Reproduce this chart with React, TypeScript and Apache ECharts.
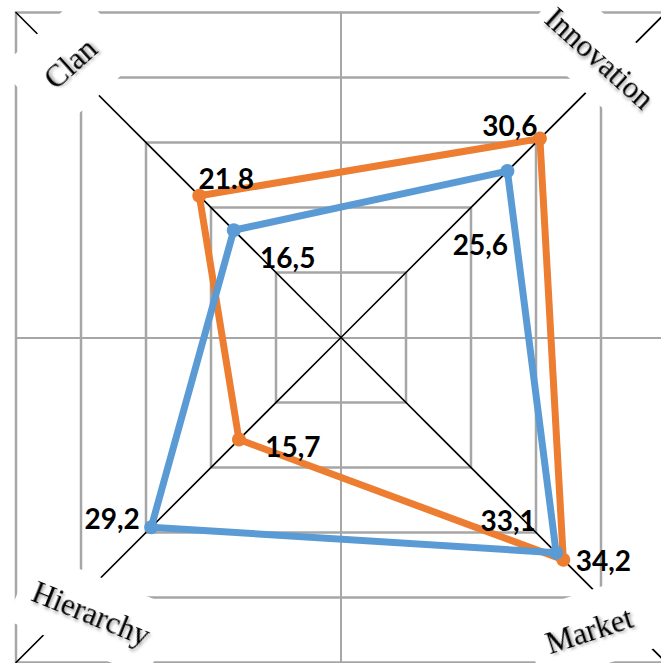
import React, { useEffect, useRef } from 'react';
import * as echarts from 'echarts';

// Culture profile on four quadrants (diagonal axes), scale 0..50 in steps of 10
const dimensions = ['Clan', 'Innovation', 'Market', 'Hierarchy'];
const profileAValues = [21.8, 30.6, 34.2, 15.7];
const profileBValues = [16.5, 25.6, 33.1, 29.2];
const profileALabels = ['21.8', '30,6', '34,2', '15,7'];
const profileBLabels = ['16,5', '25,6', '33,1', '29,2'];
const scaleMax = 50;
const scaleSteps = 5;

// Axis direction of each dimension (degrees, counter-clockwise from east)
const dimensionAngle = [135, 45, 315, 225];

// Value-label placement relative to each marker
const profileAOffsets = [[27, -18], [-30, -14], [40, 0], [54, 6]];
const profileBOffsets = [[54, 27], [-27, 73], [-48, -33], [-39, -9]];

const CX = 341;
const CY = 337.5;
const HALF = 325; // half side of the outer square
const R = HALF * Math.SQRT2;

const cornerTitles = [
  { text: 'Clan', x: 70, y: 63, rotation: 42, padding: [28, 26] },
  { text: 'Innovation', x: 600, y: 58, rotation: -42, padding: [20, 8] },
  { text: 'Hierarchy', x: 91, y: 614, rotation: -22, padding: [22, 14] },
  { text: 'Market', x: 589, y: 630, rotation: 18, padding: [22, 16] },
];

const ORANGE = '#ED7D31';
const BLUE = '#5B9BD5';

function buildData(values: number[], labels: string[], offsets: number[][]) {
  const pts: any[] = values.map((v, i) => ({
    value: [v, dimensionAngle[i]],
    label: {
      show: true,
      formatter: labels[i],
      position: 'inside',
      offset: offsets[i],
    },
  }));
  // close the polygon
  pts.push({ value: [values[0], dimensionAngle[0]], symbol: 'none', label: { show: false } });
  return pts;
}

export default function App() {
  const ref = useRef<HTMLDivElement>(null);

  useEffect(() => {
    if (!ref.current) return;
    const chart = echarts.init(ref.current, undefined, { renderer: 'svg' });

    const valueLabel = {
      color: '#000',
      fontFamily: 'Lato',
      fontWeight: 'bold' as const,
      fontSize: 28,
    };

    chart.setOption({
      animation: false,
      backgroundColor: '#fff',
      radar: [
        {
          center: [CX, CY],
          radius: R,
          startAngle: 45,
          shape: 'polygon',
          splitNumber: scaleSteps,
          indicator: dimensions.map((name) => ({ name, min: 0, max: scaleMax })),
          axisName: { show: false },
          axisLine: { lineStyle: { color: '#000', width: 1.6 } },
          axisTick: { show: false },
          axisLabel: { show: false },
          splitLine: { lineStyle: { color: '#A6A6A6', width: 2.5 } },
          splitArea: { show: false },
          z: 2,
        },
        {
          center: [CX, CY],
          radius: HALF,
          startAngle: 0,
          shape: 'polygon',
          splitNumber: 1,
          indicator: dimensions.map((name) => ({ name, min: 0, max: scaleMax })),
          axisName: { show: false },
          axisLine: { lineStyle: { color: '#A6A6A6', width: 2 } },
          axisTick: { show: false },
          axisLabel: { show: false },
          splitLine: { show: false },
          splitArea: { show: false },
          z: 1,
        },
      ],
      polar: { center: [CX, CY], radius: R },
      angleAxis: {
        type: 'value',
        min: 0,
        max: 360,
        startAngle: 0,
        clockwise: false,
        show: false,
      },
      radiusAxis: { type: 'value', min: 0, max: scaleMax, show: false },
      series: [
        {
          name: 'Profile A',
          type: 'line',
          coordinateSystem: 'polar',
          data: buildData(profileAValues, profileALabels, profileAOffsets),
          symbol: 'circle',
          symbolSize: 14,
          lineStyle: { color: ORANGE, width: 7 },
          itemStyle: { color: ORANGE },
          label: valueLabel,
          z: 5,
        },
        {
          name: 'Profile B',
          type: 'line',
          coordinateSystem: 'polar',
          data: buildData(profileBValues, profileBLabels, profileBOffsets),
          symbol: 'circle',
          symbolSize: 14,
          lineStyle: { color: BLUE, width: 7 },
          itemStyle: { color: BLUE },
          label: valueLabel,
          z: 6,
        },
      ],
      graphic: cornerTitles.map((t) => ({
        type: 'text',
        x: t.x,
        y: t.y,
        rotation: (t.rotation * Math.PI) / 180,
        z: 50,
        style: {
          text: t.text,
          font: '31px "Liberation Serif"',
          fill: '#000',
          align: 'center',
          verticalAlign: 'middle',
          backgroundColor: '#fff',
          padding: t.padding,
          textShadowColor: 'rgba(0,0,0,0.35)',
          textShadowBlur: 3,
          textShadowOffsetX: 2,
          textShadowOffsetY: 2,
        },
      })),
    });

    return () => chart.dispose();
  }, []);

  return (
    <div
      ref={ref}
      style={{ position: 'absolute', left: 0, top: 0, width: 661, height: 663 }}
    />
  );
}
